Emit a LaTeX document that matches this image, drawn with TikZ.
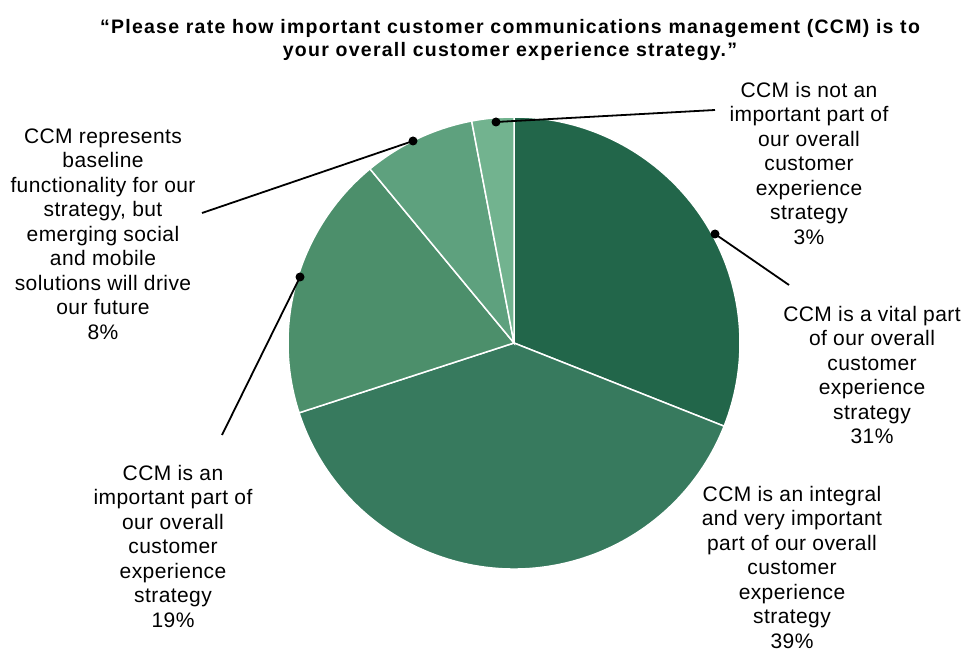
\documentclass[tikz,border=0pt]{standalone}
\usepackage{fontspec}
\setmainfont{Liberation Sans}
\newfontfamily\titlefont[LetterSpace=6.5]{Liberation Sans}
\newfontfamily\lblfont[LetterSpace=2]{Liberation Sans}
\definecolor{cA}{HTML}{22664A}
\definecolor{cB}{HTML}{377A5E}
\definecolor{cC}{HTML}{4C8F6B}
\definecolor{cD}{HTML}{5EA17E}
\definecolor{cE}{HTML}{72B38F}
\begin{document}
\begin{tikzpicture}[x=1pt,y=1pt,
  slice/.style={draw=white,line width=1.5pt},
  lbl/.style={align=center,inner sep=0pt,font=\lblfont\fontsize{21}{24.5}\selectfont},
  dotn/.style={circle,fill=black,inner sep=0pt,minimum size=9pt},
  leader/.style={line width=1.8pt,black}]
\useasboundingbox (0,0) rectangle (967,-652);
\coordinate (O) at (514,-343);
\def\R{226}
\fill[cA,slice] (O) -- ++(90:\R) arc[start angle=90,end angle=-21.6,radius=\R] -- cycle;
\fill[cB,slice] (O) -- ++(-21.6:\R) arc[start angle=-21.6,end angle=-162,radius=\R] -- cycle;
\fill[cC,slice] (O) -- ++(-162:\R) arc[start angle=-162,end angle=-230.4,radius=\R] -- cycle;
\fill[cD,slice] (O) -- ++(129.6:\R) arc[start angle=129.6,end angle=100.8,radius=\R] -- cycle;
\fill[cE,slice] (O) -- ++(100.8:\R) arc[start angle=100.8,end angle=90,radius=\R] -- cycle;

\node[align=center,inner sep=0pt,font=\titlefont\bfseries\fontsize{19.5}{23}\selectfont] (title) at (510,-40)
  {“Please rate how important customer communications management (CCM) is to\\your overall customer experience strategy.”};

\node[lbl] (l3) at (809,-163) {CCM is not an\\important part of\\our overall\\customer\\experience\\strategy\\3\%};
\node[lbl] (l31) at (872,-375) {CCM is a vital part\\of our overall\\customer\\experience\\strategy\\31\%};
\node[lbl] (l39) at (792,-567) {CCM is an integral\\and very important\\part of our overall\\customer\\experience\\strategy\\39\%};
\node[lbl] (l19) at (173,-546) {CCM is an\\important part of\\our overall\\customer\\experience\\strategy\\19\%};
\node[lbl] (l8) at (103,-234) {CCM represents\\baseline\\functionality for our\\strategy, but\\emerging social\\and mobile\\solutions will drive\\our future\\8\%};

\node[dotn] (d3) at (496,-122) {};
\node[dotn] (d31) at (715,-234) {};
\node[dotn] (d19) at (300,-277) {};
\node[dotn] (d8) at (413,-141) {};
\coordinate (e3) at (715,-110);
\coordinate (e31) at (789,-285);
\coordinate (e19) at (222,-435);
\coordinate (e8) at (202,-213);
\draw[leader] (d3.center) -- (e3);
\draw[leader] (d31.center) -- (e31);
\draw[leader] (d19.center) -- (e19);
\draw[leader] (d8.center) -- (e8);
\end{tikzpicture}
\end{document}
